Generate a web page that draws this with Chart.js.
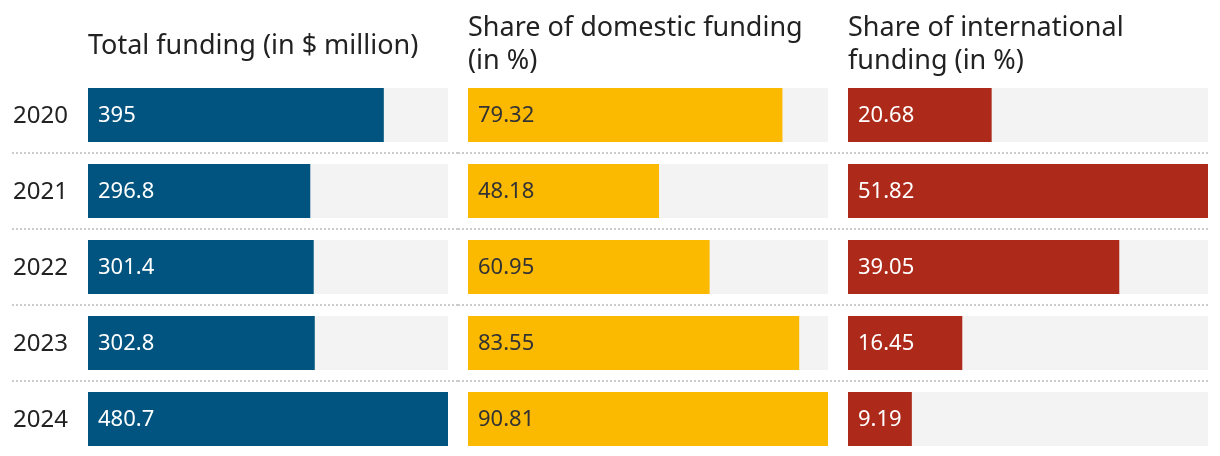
<!DOCTYPE html>
<html>
<head>
<meta charset="utf-8">
<script src="https://cdn.jsdelivr.net/npm/chart.js@4.4.1/dist/chart.umd.min.js"></script>
<style>
  html, body { margin: 0; padding: 0; background: #fff; overflow: hidden; }
  #wrap { position: relative; width: 1220px; height: 457px; font-family: "Noto Sans", sans-serif; color: #222; }
  .panel { position: absolute; top: 0; height: 457px; }
  .title { position: absolute; font-size: 27px; line-height: 33px; color: #222; white-space: nowrap; }
</style>
</head>
<body>
<div id="wrap">
  <div class="panel" style="left:0;width:458px"><canvas id="totalChart"></canvas></div>
  <div class="panel" style="left:458px;width:380px"><canvas id="domesticChart"></canvas></div>
  <div class="panel" style="left:838px;width:382px"><canvas id="intlChart"></canvas></div>
  <div class="title" style="left:88px;top:27px">Total funding (in $ million)</div>
  <div class="title" style="left:468px;top:9px">Share of domestic funding<br>(in %)</div>
  <div class="title" style="left:848px;top:9px">Share of international<br>funding (in %)</div>
</div>
<script>
const years = ["2020", "2021", "2022", "2023", "2024"];
const totalFunding = [395, 296.8, 301.4, 302.8, 480.7];
const domesticShare = [79.32, 48.18, 60.95, 83.55, 90.81];
const internationalShare = [20.68, 51.82, 39.05, 16.45, 9.19];

const FONT = "'Noto Sans', sans-serif";

// dotted row separators, year labels and value labels inside bars
const rowPlugin = {
  id: "rowPlugin",
  beforeDatasetsDraw(chart) {
    const ctx = chart.ctx;
    const y = chart.scales.y;
    const o = chart.options.plugins.rowPlugin;
    ctx.save();
    ctx.strokeStyle = "#cccccc";
    ctx.lineWidth = 2;
    ctx.setLineDash([2, 2]);
    for (let i = 0; i < years.length - 1; i++) {
      const py = Math.round((y.getPixelForValue(i) + y.getPixelForValue(i + 1)) / 2);
      ctx.beginPath();
      ctx.moveTo(o.lineFrom, py);
      ctx.lineTo(o.lineTo, py);
      ctx.stroke();
    }
    ctx.setLineDash([]);
    if (o.showYears) {
      ctx.font = "24px " + FONT;
      ctx.fillStyle = "#222";
      ctx.textAlign = "right";
      ctx.textBaseline = "middle";
      years.forEach((yr, i) => {
        ctx.fillText(yr, chart.chartArea.left - 20, y.getPixelForValue(i) + 1);
      });
    }
    ctx.restore();
  },
  afterDatasetsDraw(chart) {
    const ctx = chart.ctx;
    const meta = chart.getDatasetMeta(0);
    const vals = chart.data.datasets[0].data;
    ctx.save();
    ctx.font = "22px " + FONT;
    ctx.fillStyle = chart.options.plugins.rowPlugin.labelColor;
    ctx.textAlign = "left";
    ctx.textBaseline = "middle";
    meta.data.forEach((bar, i) => {
      ctx.fillText(String(vals[i]), bar.base + 10, bar.y + 1);
    });
    ctx.restore();
  }
};

function makeChart(id, values, color, labelColor, opts) {
  const max = Math.max(...values);
  return new Chart(document.getElementById(id), {
    type: "bar",
    data: {
      labels: years,
      datasets: [
        { data: values, backgroundColor: color, order: 0, grouped: false,
          categoryPercentage: 1, barPercentage: 54 / 76 },
        { data: years.map(() => max), backgroundColor: "#f3f3f3", order: 1, grouped: false,
          categoryPercentage: 1, barPercentage: 54 / 76 }
      ]
    },
    plugins: [rowPlugin],
    options: {
      indexAxis: "y",
      responsive: true,
      maintainAspectRatio: false,
      animation: false,
      layout: { padding: { top: 77, bottom: 0, left: opts.padLeft, right: opts.padRight } },
      plugins: {
        legend: { display: false },
        tooltip: { enabled: false },
        rowPlugin: { lineFrom: opts.lineFrom, lineTo: opts.lineTo, labelColor, showYears: opts.showYears }
      },
      scales: {
        x: { display: false, min: 0, max },
        y: { display: false }
      }
    }
  });
}

makeChart("totalChart", totalFunding, "#00547f", "#ffffff",
  { padLeft: 88, padRight: 10, showYears: true, lineFrom: 12, lineTo: 458 });
makeChart("domesticChart", domesticShare, "#fbb900", "#333333",
  { padLeft: 10, padRight: 10, showYears: false, lineFrom: 0, lineTo: 380 });
makeChart("intlChart", internationalShare, "#ad2a1a", "#ffffff",
  { padLeft: 10, padRight: 12, showYears: false, lineFrom: 0, lineTo: 370 });
</script>
</body>
</html>
